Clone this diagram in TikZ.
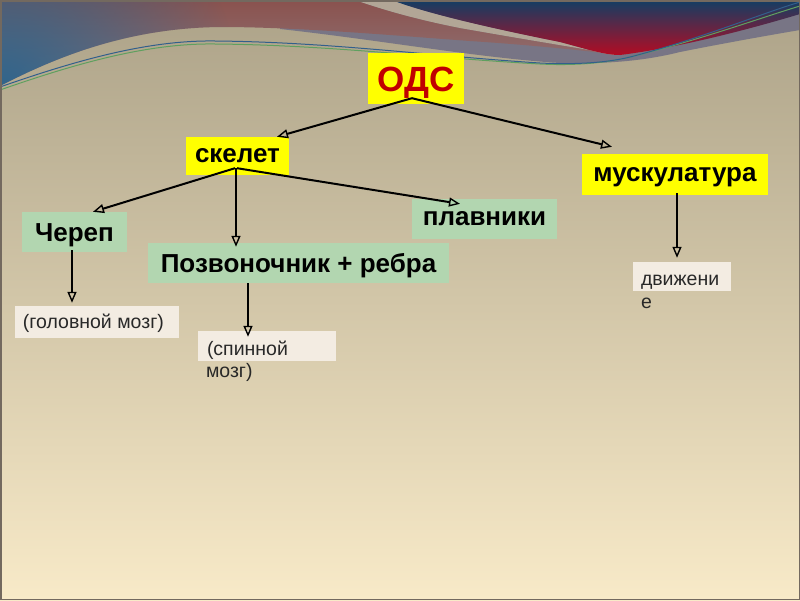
\documentclass[tikz,border=0pt]{standalone}
\usepackage{fontspec}
\setmainfont{Liberation Sans}
\usetikzlibrary{arrows.meta,calc,fadings}
\definecolor{bgTop}{RGB}{172,162,136}
\definecolor{bgMid}{RGB}{207,196,165}
\definecolor{bgBot}{RGB}{248,234,200}
\definecolor{pTop}{RGB}{138,82,78}
\definecolor{pBot}{RGB}{145,122,126}
\definecolor{pBlue}{RGB}{45,100,140}
\definecolor{bandG}{RGB}{120,117,133}
\definecolor{stripe}{RGB}{178,166,150}
\definecolor{wTop}{RGB}{18,62,100}
\definecolor{wMid}{RGB}{100,30,70}
\definecolor{wBot}{RGB}{180,12,35}
\definecolor{lineBlue}{RGB}{50,95,140}
\definecolor{lineGreen}{RGB}{95,160,95}
\definecolor{yel}{RGB}{255,255,0}
\definecolor{grn}{RGB}{178,214,176}
\definecolor{wht}{RGB}{243,236,226}
\definecolor{odsred}{RGB}{192,0,0}
\definecolor{txtgray}{RGB}{40,40,40}
\definecolor{frame}{RGB}{115,105,95}
\tikzfading[name=radfade, inner color=transparent!0, outer color=transparent!100]
\begin{document}
\begin{tikzpicture}[x=1pt,y=-1pt,
  bigfont/.style={font=\bfseries\fontsize{26}{31}\selectfont},
  ybox/.style={fill=yel, inner sep=0pt, text=black, bigfont, text depth=0pt},
  gbox/.style={fill=grn, inner sep=0pt, text=black, bigfont, text depth=0pt},
  sbox/.style={fill=wht, inner sep=0pt},
  stxt/.style={font=\fontsize{19.5}{22}\selectfont, text=txtgray, inner sep=0pt, anchor=base west},
  arr/.style={draw=black, line width=2pt, -{Triangle[open, length=11pt, width=9pt, line width=1.4pt]}}]
\useasboundingbox (0,0) rectangle (800,600);
\begin{scope}
  \clip (0,0) rectangle (800,600);
  % background gradient
  \shade[top color=bgTop, middle color=bgMid, bottom color=bgBot] (0,0) rectangle (800,600);
  % grey band under the wave
  \fill[bandG] (280,0) -- (280,29) .. controls (380,40) and (480,58) .. (560,63)
     .. controls (600,64) and (640,62) .. (680,52) .. controls (720,44) and (770,35) .. (800,30)
     -- (800,0) -- cycle;
  % pinkish region
  \shade[top color=pTop, bottom color=pBot]
     (0,0) -- (355,0) .. controls (390,12) and (420,20) .. (460,28)
     .. controls (540,42) and (590,50) .. (620,55)
     .. controls (580,50) and (530,45) .. (470,41)
     .. controls (400,36) and (300,27) .. (220,27)
     .. controls (130,28) and (60,55) .. (0,86) -- cycle;
  \begin{scope}
    \clip (0,0) -- (355,0) .. controls (390,12) and (420,20) .. (460,28)
     .. controls (540,42) and (590,50) .. (620,55)
     .. controls (580,50) and (530,45) .. (470,41)
     .. controls (400,36) and (300,27) .. (220,27)
     .. controls (130,28) and (60,55) .. (0,86) -- cycle;
    \fill[pBlue, path fading=radfade] (0,95) circle (240pt);
  \end{scope}
  % light stripe
  \fill[stripe] (355,0) -- (392,0) .. controls (430,15) and (510,32) .. (560,42)
     .. controls (590,50) and (605,55) .. (620,55)
     .. controls (590,50) and (540,42) .. (460,28)
     .. controls (420,20) and (390,12) .. (355,0) -- cycle;
  % dark wave
  \shade[top color=wTop, middle color=wMid, bottom color=wBot]
     (392,0) .. controls (430,15) and (510,32) .. (560,42)
     .. controls (590,50) and (605,55) .. (620,55)
     .. controls (660,50) and (720,38) .. (800,14) -- (800,0) -- cycle;
  % thin lines
  \draw[lineGreen, line width=1pt] (0,90) .. controls (80,62) and (150,43) .. (215,44)
     .. controls (330,45) and (430,58) .. (540,64) .. controls (580,66) and (610,62) .. (630,57)
     .. controls (700,40) and (760,18) .. (800,6);
  \draw[lineBlue, line width=1pt] (0,87) .. controls (80,59) and (150,40) .. (215,41)
     .. controls (330,42) and (430,56) .. (540,63) .. controls (580,65) and (610,62) .. (630,57)
     .. controls (700,39) and (760,14) .. (800,2);
\end{scope}

% nodes
\node[ybox, minimum width=96pt, minimum height=51pt, text height=25pt,
      font=\bfseries\fontsize{35}{40}\selectfont, text=odsred] (ods) at (416,78.5) {ОДС};
\node[ybox, minimum width=103pt, minimum height=38pt, text height=13.5pt] (skelet) at (237.5,156) {скелет};
\node[ybox, minimum width=186pt, minimum height=41pt, text height=13.5pt] (musk) at (675,174.5) {мускулатура};
\node[gbox, minimum width=105pt, minimum height=40pt, text height=18.6pt] (cherep) at (74.5,232) {Череп};
\node[gbox, minimum width=301pt, minimum height=40pt, text height=18.6pt] (pozv) at (298.5,263) {Позвоночник + ребра};
\node[gbox, minimum width=145pt, minimum height=40pt, text height=13.5pt] (plavn) at (484.5,219) {плавники};
\node[sbox, minimum width=164pt, minimum height=32pt] (golov) at (97,322) {};
\node[sbox, minimum width=138pt, minimum height=30pt] (spin) at (267,346) {};
\node[sbox, minimum width=98pt, minimum height=29pt] (dvizh) at (682,276.5) {};
\node[stxt] (golovT) at ([xshift=8pt,yshift=-6pt]golov.west) {(головной мозг)};
\node[stxt] (spinT1) at ([xshift=9pt,yshift=-9pt]spin.west) {(спинной};
\node[stxt] (spinT2) at ([xshift=8pt,yshift=-31pt]spin.west) {мозг)};
\node[stxt] (dvT1) at ([xshift=8pt,yshift=-8.5pt]dvizh.west) {движени};
\node[stxt] (dvT2) at ([xshift=8pt,yshift=-31.5pt]dvizh.west) {е};

% connectors
\draw[arr] ([shift={(-4pt,6pt)}]ods.south) -- ([xshift=39.5pt]skelet.north);
\draw[arr] ([shift={(-4pt,6pt)}]ods.south) -- ([shift={(-63pt,7pt)}]musk.north);
\draw[arr] ([shift={(-2.5pt,7pt)}]skelet.south) -- ([xshift=18.5pt]cherep.north);
\draw[arr] ([shift={(-1.5pt,7pt)}]skelet.south) -- ([shift={(-62.5pt,-4pt)}]pozv.north);
\draw[arr] ([shift={(-0.5pt,7pt)}]skelet.south) -- ([shift={(-24.5pt,-5pt)}]plavn.north);
\draw[arr] ([shift={(-2.5pt,2pt)}]cherep.south) -- ([shift={(-25pt,3pt)}]golov.north);
\draw[arr] ([xshift=-50.5pt]pozv.south) -- ([shift={(-19pt,-6pt)}]spin.north);
\draw[arr] ([shift={(2pt,2pt)}]musk.south) -- ([shift={(-5pt,4pt)}]dvizh.north);

% frame
\draw[frame, line width=1.5pt] (0.75,0.75) rectangle (799.25,599.25);
\end{tikzpicture}
\end{document}
